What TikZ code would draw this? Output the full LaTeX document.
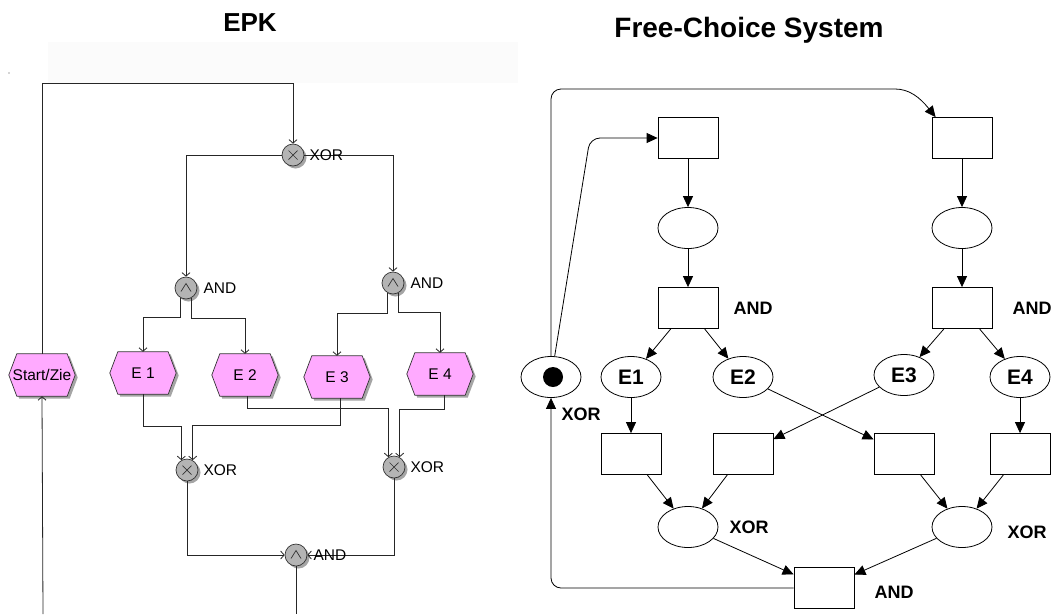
\documentclass[tikz,border=0pt]{standalone}
\usepackage{fontspec}
\setmainfont{Liberation Sans}
\usetikzlibrary{arrows.meta,shapes.geometric,shadows}
\pgfdeclarelayer{bg}
\pgfsetlayers{bg,main}
\definecolor{evpink}{RGB}{255,170,255}
\definecolor{gatefill}{RGB}{180,180,180}
\definecolor{shadowgray}{RGB}{165,165,165}
\definecolor{bandgray}{RGB}{251,251,251}
\begin{document}
\begin{tikzpicture}[x=1pt,y=-1pt,
  eline/.style={draw=black!85, line width=0.8pt},
  earr/.style={eline, -{Straight Barb[length=3.5pt,width=8pt]}},
  gate/.style={circle, minimum size=22pt, inner sep=0pt, draw=black!80, fill=gatefill, line width=0.7pt,
     drop shadow={shadow xshift=2.5pt, shadow yshift=-2.5pt, fill=shadowgray, opacity=1}},
  xorgate/.style={gate, path picture={\draw[line width=0.7pt]
     ([shift={(-4.5,-4.5)}]path picture bounding box.center) -- ([shift={(4.5,4.5)}]path picture bounding box.center)
     ([shift={(-4.5,4.5)}]path picture bounding box.center) -- ([shift={(4.5,-4.5)}]path picture bounding box.center);}},
  andgate/.style={gate, path picture={\draw[line width=0.7pt]
     ([shift={(-5,3.5)}]path picture bounding box.center) -- ([shift={(0,-4.5)}]path picture bounding box.center)
     -- ([shift={(5,3.5)}]path picture bounding box.center);}},
  glabel/.style={anchor=west, inner sep=0pt, font=\fontsize{15.5}{18}\selectfont},
  evbox/.style={rectangle, minimum width=66pt, minimum height=42pt, inner sep=0pt, font=\fontsize{15.5}{18}\selectfont},
  hexshape/.style={fill=evpink, draw=black!80, line width=0.7pt},
  pline/.style={draw=black, line width=0.8pt},
  parr/.style={pline, -{Triangle[length=11pt,width=10pt]}},
  trans/.style={rectangle, draw, line width=0.8pt, minimum width=60pt, minimum height=41pt, inner sep=0pt},
  place/.style={ellipse, draw, line width=0.8pt, minimum width=60pt, minimum height=41pt, inner sep=0pt,
     font=\bfseries\fontsize{21}{24}\selectfont},
  plabel/.style={inner sep=0pt, font=\bfseries\fontsize{18}{21}\selectfont},
  titlefont/.style={inner sep=0pt, font=\bfseries\fontsize{26}{30}\selectfont}
]
\begin{pgfonlayer}{bg}
\fill[white] (0,0) rectangle (1055,614);
\fill[bandgray] (48,42) rectangle (518,83);
\end{pgfonlayer}
\useasboundingbox (0,0) rectangle (1055,614);

% titles
\node[titlefont] (tepk) at (250,23) {EPK};
\node[titlefont, font=\bfseries\fontsize{28}{32}\selectfont] (tfcs) at (749,30) {Free-Choice System};
\node[circle, fill=black!70, inner sep=0pt, minimum size=1.3pt] (speck) at (9,73) {};

% ================= EPK =================
\node[evbox] (sz) at (42,375) {Start/Zie};
\node[evbox] (e1) at (143,373) {E 1};
\node[evbox] (e2) at (245,375) {E 2};
\node[evbox] (e3) at (337,377) {E 3};
\node[evbox] (e4) at (440,374) {E 4};

\begin{pgfonlayer}{bg}
\begin{scope}[transform canvas={xshift=2.5pt,yshift=-2.5pt}]
\foreach \n in {sz,e1,e2,e3,e4}{
  \fill[shadowgray] (\n.west) -- ([xshift=8pt]\n.north west) -- ([xshift=-8pt]\n.north east) -- (\n.east)
     -- ([xshift=-8pt]\n.south east) -- ([xshift=8pt]\n.south west) -- cycle;
}
\end{scope}
\foreach \n in {sz,e1,e2,e3,e4}{
  \path[hexshape] (\n.west) -- ([xshift=8pt]\n.north west) -- ([xshift=-8pt]\n.north east) -- (\n.east)
     -- ([xshift=-8pt]\n.south east) -- ([xshift=8pt]\n.south west) -- cycle;
}
\end{pgfonlayer}

\node[xorgate] (xor1) at (293,155) {};
\node[andgate] (and1) at (186,288) {};
\node[andgate] (and2) at (393,283) {};
\node[xorgate] (xor2) at (187,470) {};
\node[xorgate] (xor3) at (394,467) {};
\node[andgate] (and3) at (296,555) {};

\coordinate (rtop) at (293,83);
\coordinate (cb1) at (43,614);
\coordinate (cb2) at (296,614);

\draw[earr] (sz.north) |- (rtop) -- (xor1.north);
\draw[earr] (xor1.west) -| (and1.north);
\draw[earr] (xor1.east) -| (and2.north);
\draw[earr] (and1.240) -- ++(0,20) -| (e1.north);
\draw[earr] (and1.300) -- ++(0,21) -| (e2.north);
\draw[earr] (and2.240) -- ++(0,21) -| (e3.north);
\draw[earr] (and2.300) -- ++(0,20) -| (e4.north);
\draw[earr] (e1.south) -- ++(0,32) -| (xor2.120);
\draw[earr] ([xshift=3pt]e3.south) -- ++(0,27) -| (xor2.60);
\draw[earr] ([xshift=2pt]e2.south) -- ++(0,12) -| (xor3.120);
\draw[earr] ([xshift=4pt]e4.south) -- ++(0,14) -| (xor3.60);
\draw[earr] (xor2.south) |- (and3.west);
\draw[earr] (xor3.south) |- (and3.east);
\draw[eline] (and3.south) -- (cb2);
\draw[earr] (cb1) -- (sz.south);

\node[glabel] (lx1) at ([xshift=5pt]xor1.east) {XOR};
\node[glabel] (la1) at ([xshift=6pt]and1.east) {AND};
\node[glabel] (la2) at ([xshift=6pt]and2.east) {AND};
\node[glabel] (lx2) at ([xshift=5pt]xor2.east) {XOR};
\node[glabel] (lx3) at ([xshift=5pt]xor3.east) {XOR};
\node[glabel] (la3) at ([xshift=6pt]and3.east) {AND};

% ================= Free-Choice System =================
\node[trans] (t1) at (688,138) {};
\node[trans] (t2) at (962,138) {};
\node[place] (p1) at (688,228) {};
\node[place] (p2) at (962,228) {};
\node[trans] (t3) at (688,308) {};
\node[trans] (t4) at (962,308) {};
\node[place] (tok) at (551,377) {};
\node[circle, fill=black, inner sep=0pt, minimum size=20pt] (tokdot) at (553,377) {};
\node[place] (pe1) at (631,377) {E1};
\node[place] (pe2) at (743,377) {E2};
\node[place] (pe3) at (904,375) {E3};
\node[place] (pe4) at (1020,377) {E4};
\node[trans] (r1) at (631,454) {};
\node[trans] (r2) at (743,454) {};
\node[trans] (r3) at (904,454) {};
\node[trans] (r4) at (1020,454) {};
\node[place] (p3) at (688,527) {};
\node[place] (p4) at (962,527) {};
\node[trans] (t5) at (824,588) {};

\node[plabel] (lt3) at (753,308) {AND};
\node[plabel] (lt4) at (1032,308) {AND};
\node[plabel] (ltok) at (581,414) {XOR};
\node[plabel] (lp3) at (749,527) {XOR};
\node[plabel] (lp4) at (1027,532) {XOR};
\node[plabel] (lt5) at (894,592) {AND};

\draw[parr] (t1) -- (p1);
\draw[parr] (p1) -- (t3);
\draw[parr] (t2) -- (p2);
\draw[parr] (p2) -- (t4);
\draw[parr] (t3) -- (pe1);
\draw[parr] (t3) -- (pe2);
\draw[parr] (t4) -- (pe3);
\draw[parr] (t4) -- (pe4);
\draw[parr] (pe1) -- (r1);
\draw[parr] (pe3) -- (r2);
\draw[parr] (pe2) -- (r3);
\draw[parr] (pe4) -- (r4);
\draw[parr] (r1) -- (p3);
\draw[parr] (r2) -- (p3);
\draw[parr] (r3) -- (p4);
\draw[parr] (r4) -- (p4);
\draw[parr] (p3) -- (t5);
\draw[parr] (p4) -- (t5);
\draw[parr, rounded corners=10pt] (t5.west) -| (tok.south);

\coordinate (c0) at (551,89);
\coordinate (c1) at (590,138);
\coordinate (c2) at (885,89);
\draw[parr, rounded corners=10pt] (tok.80) -- (c1) -- (t1.west);
\draw[parr] (tok.north) [rounded corners=10pt] -- (c0) -- (c2) [sharp corners]
   .. controls +(24,0) and +(-16,-20) .. ([xshift=4pt]t2.north west);
\end{tikzpicture}
\end{document}
